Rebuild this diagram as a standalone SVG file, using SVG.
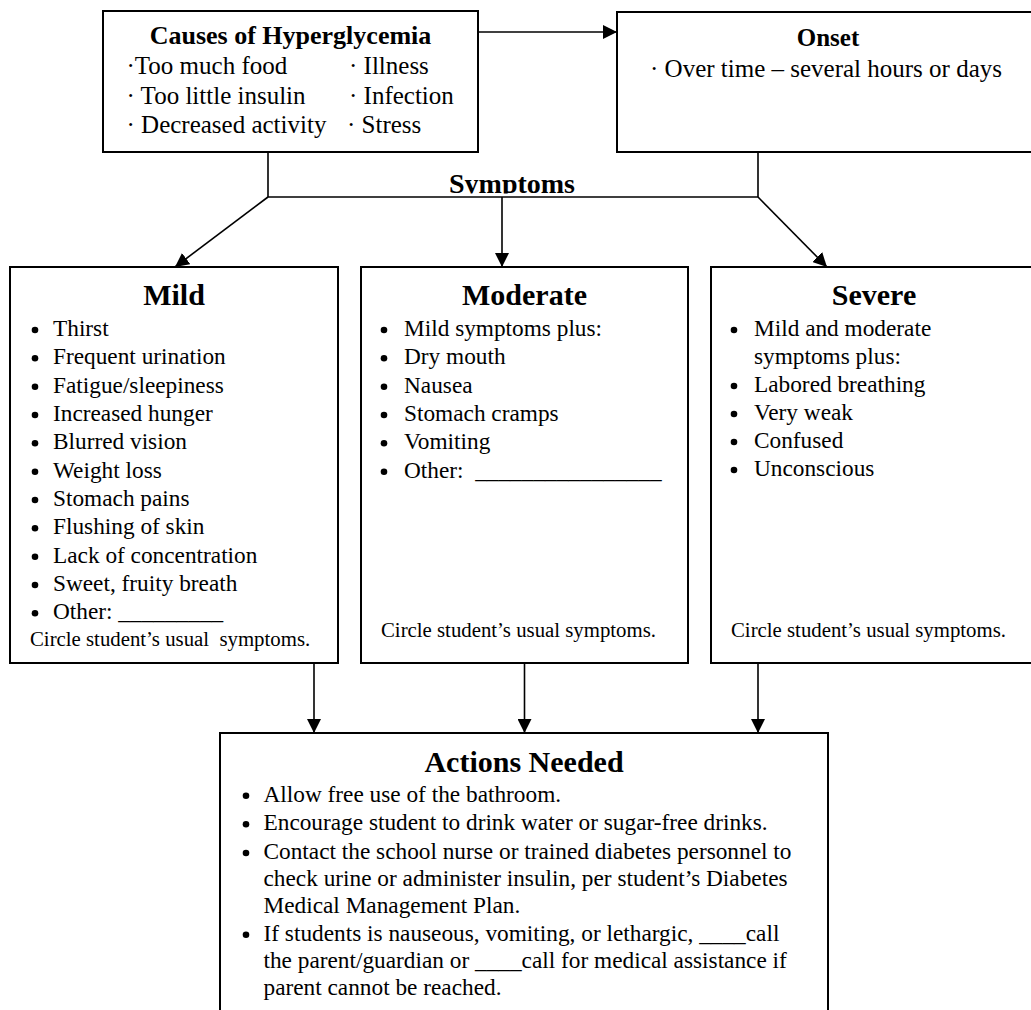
<svg xmlns="http://www.w3.org/2000/svg" width="1031" height="1010" viewBox="0 0 1031 1010">
<style>
text{font-family:"Liberation Serif","Times New Roman",serif;fill:#000}
.box{fill:#fff;stroke:#000;stroke-width:2}
.t30{font-size:30px;font-weight:bold;text-anchor:middle}
.t25b{font-size:26px;font-weight:bold;text-anchor:middle}
.b25{font-size:25px}
.b23{font-size:23.3px}
.s20{font-size:20.8px}
.bul{fill:#000}
.con{fill:none;stroke:#000;stroke-width:1.6}
</style>
<defs>
<marker id="arr" markerUnits="userSpaceOnUse" markerWidth="14" markerHeight="14" refX="14" refY="7" orient="auto">
<path d="M0,0 L14,7 L0,14 z" fill="#000"/>
</marker>
<clipPath id="symclip"><rect x="0" y="0" width="1031" height="193.5"/></clipPath>
</defs>

<g id="connectors">
<line class="con" x1="478" y1="32" x2="617" y2="32" marker-end="url(#arr)"/>
<path class="con" d="M268,152 V197 H758 V152"/>
<line class="con" x1="268" y1="197" x2="175" y2="267" marker-end="url(#arr)"/>
<line class="con" x1="502" y1="197" x2="502" y2="267" marker-end="url(#arr)"/>
<line class="con" x1="758" y1="197" x2="827" y2="267" marker-end="url(#arr)"/>
<line class="con" x1="314" y1="663" x2="314" y2="733" marker-end="url(#arr)"/>
<line class="con" x1="524.5" y1="663" x2="524.5" y2="733" marker-end="url(#arr)"/>
<line class="con" x1="758" y1="663" x2="758" y2="733" marker-end="url(#arr)"/>
<text clip-path="url(#symclip)" x="512" y="193" style="font-size:28px;font-weight:bold;text-anchor:middle">Symptoms</text>
</g>

<g id="causes">
<rect class="box" x="103" y="11" width="375" height="141"/>
<text class="t25b" x="290.5" y="44">Causes of Hyperglycemia</text>
<text class="b25" x="126.5" y="74">·Too much food</text>
<text class="b25" x="126.5" y="104">· Too little insulin</text>
<text class="b25" x="126.5" y="133">· Decreased activity</text>
<text class="b25" x="349" y="74">· Illness</text>
<text class="b25" x="349" y="104">· Infection</text>
<text class="b25" x="347" y="133">· Stress</text>
</g>

<g id="onset">
<rect class="box" x="617" y="12" width="430" height="140"/>
<text class="t25b" x="828" y="45.5" style="font-size:25px">Onset</text>
<text class="b25" x="650" y="77">· Over time – several hours or days</text>
</g>

<g id="mild">
<rect class="box" x="10" y="267" width="328" height="396"/>
<text class="t30" x="174" y="305">Mild</text>
<g class="bul">
<circle cx="35" cy="330" r="3.3"/><circle cx="35" cy="358.3" r="3.3"/><circle cx="35" cy="386.7" r="3.3"/><circle cx="35" cy="415" r="3.3"/><circle cx="35" cy="443.3" r="3.3"/><circle cx="35" cy="471.7" r="3.3"/><circle cx="35" cy="500" r="3.3"/><circle cx="35" cy="528.3" r="3.3"/><circle cx="35" cy="556.7" r="3.3"/><circle cx="35" cy="585" r="3.3"/><circle cx="35" cy="613.3" r="3.3"/>
</g>
<text class="b23" x="53" y="336">Thirst</text>
<text class="b23" x="53" y="364.3">Frequent urination</text>
<text class="b23" x="53" y="392.7">Fatigue/sleepiness</text>
<text class="b23" x="53" y="421">Increased hunger</text>
<text class="b23" x="53" y="449.3">Blurred vision</text>
<text class="b23" x="53" y="477.7">Weight loss</text>
<text class="b23" x="53" y="506">Stomach pains</text>
<text class="b23" x="53" y="534.3">Flushing of skin</text>
<text class="b23" x="53" y="562.7">Lack of concentration</text>
<text class="b23" x="53" y="591">Sweet, fruity breath</text>
<text class="b23" x="53" y="619.3">Other: _________</text>
<text class="s20" x="30" y="646">Circle student’s usual&#160; symptoms.</text>
</g>

<g id="moderate">
<rect class="box" x="361" y="267" width="327" height="396"/>
<text class="t30" x="524.5" y="305">Moderate</text>
<g class="bul">
<circle cx="384" cy="330" r="3.3"/><circle cx="384" cy="358.3" r="3.3"/><circle cx="384" cy="386.7" r="3.3"/><circle cx="384" cy="415" r="3.3"/><circle cx="384" cy="443.3" r="3.3"/><circle cx="384" cy="471.7" r="3.3"/>
</g>
<text class="b23" x="404" y="336">Mild symptoms plus:</text>
<text class="b23" x="404" y="364.3">Dry mouth</text>
<text class="b23" x="404" y="392.7">Nausea</text>
<text class="b23" x="404" y="421">Stomach cramps</text>
<text class="b23" x="404" y="449.3">Vomiting</text>
<text class="b23" x="404" y="477.7">Other:&#160; ________________</text>
<text class="s20" x="381" y="637">Circle student’s usual symptoms.</text>
</g>

<g id="severe">
<rect class="box" x="711" y="267" width="330" height="396"/>
<text class="t30" x="874" y="305">Severe</text>
<g class="bul">
<circle cx="734" cy="330" r="3.3"/><circle cx="734" cy="386" r="3.3"/><circle cx="734" cy="414" r="3.3"/><circle cx="734" cy="442" r="3.3"/><circle cx="734" cy="470" r="3.3"/>
</g>
<text class="b23" x="754" y="336">Mild and moderate</text>
<text class="b23" x="754" y="364">symptoms plus:</text>
<text class="b23" x="754" y="392">Labored breathing</text>
<text class="b23" x="754" y="420">Very weak</text>
<text class="b23" x="754" y="448">Confused</text>
<text class="b23" x="754" y="476">Unconscious</text>
<text class="s20" x="731" y="637">Circle student’s usual symptoms.</text>
</g>

<g id="actions">
<rect class="box" x="220" y="733" width="608" height="290"/>
<text class="t30" x="524" y="772">Actions Needed</text>
<g class="bul">
<circle cx="246" cy="795.7" r="3.3"/><circle cx="246" cy="824.3" r="3.3"/><circle cx="246" cy="853" r="3.3"/><circle cx="246" cy="934.7" r="3.3"/>
</g>
<text class="b23" x="263.5" y="801.7">Allow free use of the bathroom.</text>
<text class="b23" x="263.5" y="830.3">Encourage student to drink water or sugar-free drinks.</text>
<text class="b23" x="263.5" y="859">Contact the school nurse or trained diabetes personnel to</text>
<text class="b23" x="263.5" y="886">check urine or administer insulin, per student’s Diabetes</text>
<text class="b23" x="263.5" y="913">Medical Management Plan.</text>
<text class="b23" x="263.5" y="940.7">If students is nauseous, vomiting, or lethargic, ____call</text>
<text class="b23" x="263.5" y="968">the parent/guardian or ____call for medical assistance if</text>
<text class="b23" x="263.5" y="995">parent cannot be reached.</text>
</g>
</svg>
